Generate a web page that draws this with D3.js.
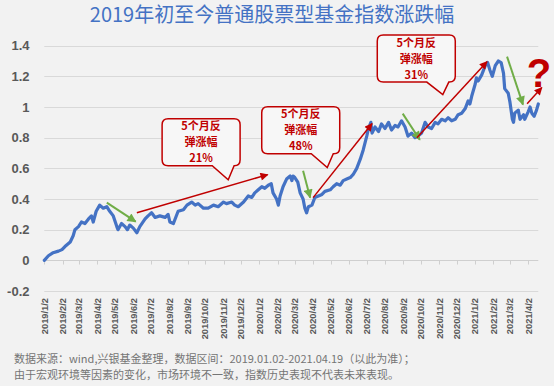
<!DOCTYPE html>
<html>
<head>
<meta charset="utf-8">
<script src="https://cdn.jsdelivr.net/npm/d3@7"></script>
<style>
  body { margin: 0; background: #f2f2f2; }
  svg { display: block; }
</style>
</head>
<body>
<script>
// index values (cumulative return since 2019-01-02)
const dates = [
  "2019-01-02","2019-01-09","2019-01-17","2019-01-26","2019-02-01","2019-02-06","2019-02-15","2019-02-20",
  "2019-02-23","2019-03-01","2019-03-06","2019-03-12","2019-03-18","2019-03-23","2019-03-26","2019-03-31",
  "2019-04-06","2019-04-12","2019-04-18","2019-04-23","2019-04-29","2019-05-05","2019-05-07","2019-05-13",
  "2019-05-19","2019-05-23","2019-05-27","2019-06-02","2019-06-08","2019-06-13","2019-06-22","2019-06-27",
  "2019-07-03","2019-07-09","2019-07-17","2019-07-26","2019-07-31","2019-08-03","2019-08-09","2019-08-17",
  "2019-08-26","2019-09-01","2019-09-09","2019-09-15","2019-09-20","2019-09-29","2019-10-07","2019-10-16",
  "2019-10-24","2019-11-02","2019-11-07","2019-11-16","2019-11-21","2019-11-27","2019-12-06","2019-12-14",
  "2019-12-20","2019-12-25","2019-12-31","2020-01-06","2020-01-11","2020-01-17","2020-01-22","2020-01-25",
  "2020-01-31","2020-02-03","2020-02-06","2020-02-11","2020-02-17","2020-02-23","2020-02-26","2020-02-28",
  "2020-03-02","2020-03-07","2020-03-11","2020-03-16","2020-03-19","2020-03-22","2020-03-25","2020-03-31",
  "2020-04-05","2020-04-11","2020-04-17","2020-04-22","2020-05-01","2020-05-06","2020-05-12","2020-05-18",
  "2020-05-23","2020-05-29","2020-06-04","2020-06-09","2020-06-15","2020-06-21","2020-06-26","2020-07-02",
  "2020-07-05","2020-07-09","2020-07-11","2020-07-16","2020-07-22","2020-07-27","2020-08-02","2020-08-08",
  "2020-08-13","2020-08-19","2020-08-24","2020-08-30","2020-09-05","2020-09-10","2020-09-16","2020-09-22",
  "2020-09-27","2020-10-03","2020-10-09","2020-10-14","2020-10-20","2020-10-26","2020-10-31","2020-11-06",
  "2020-11-12","2020-11-17","2020-11-23","2020-11-29","2020-12-04","2020-12-10","2020-12-16","2020-12-21",
  "2020-12-24","2020-12-27","2021-01-02","2021-01-04","2021-01-07","2021-01-13","2021-01-19","2021-01-23",
  "2021-01-27","2021-01-31","2021-02-05","2021-02-10","2021-02-15","2021-02-19","2021-02-21","2021-02-27",
  "2021-03-02","2021-03-06","2021-03-08","2021-03-10","2021-03-16","2021-03-19","2021-03-25","2021-03-27",
  "2021-04-02","2021-04-05","2021-04-08","2021-04-12","2021-04-16","2021-04-19"
]
const values = [
  0.00,0.03,0.05,0.06,0.07,0.09,0.12,0.16,
  0.20,0.22,0.25,0.24,0.27,0.29,0.25,0.32,
  0.36,0.34,0.35,0.32,0.29,0.22,0.20,0.24,
  0.22,0.20,0.23,0.21,0.18,0.22,0.27,0.29,
  0.31,0.28,0.29,0.28,0.30,0.25,0.24,0.32,
  0.33,0.36,0.38,0.36,0.37,0.34,0.34,0.36,
  0.35,0.38,0.37,0.38,0.36,0.35,0.38,0.42,
  0.41,0.44,0.46,0.48,0.47,0.49,0.50,0.44,
  0.40,0.36,0.42,0.48,0.53,0.55,0.52,0.55,
  0.54,0.51,0.44,0.40,0.34,0.31,0.35,0.36,
  0.41,0.42,0.43,0.45,0.46,0.48,0.50,0.49,
  0.52,0.53,0.54,0.56,0.60,0.66,0.72,0.81,
  0.86,0.90,0.83,0.87,0.84,0.89,0.86,0.90,
  0.85,0.88,0.87,0.91,0.87,0.81,0.83,0.80,
  0.81,0.83,0.90,0.87,0.86,0.90,0.89,0.92,
  0.91,0.93,0.91,0.92,0.95,0.96,0.99,1.04,
  1.02,1.07,1.15,1.19,1.17,1.21,1.27,1.29,
  1.24,1.20,1.27,1.30,1.29,1.22,1.12,1.09,
  1.03,0.92,0.90,0.96,0.98,0.92,0.95,0.92,
  0.97,1.00,0.96,0.94,0.98,1.02
]

const yTicks = [-0.2, 0, 0.2, 0.4, 0.6, 0.8, 1, 1.2, 1.4]

// annotations, [from date, from value, to date, to value]
const greenArrows = [
  ["2019-04-18", 0.376, "2019-06-06", 0.252],
  ["2020-03-16", 0.585, "2020-03-28", 0.409],
  ["2020-09-01", 0.957, "2020-09-30", 0.787],
  ["2021-02-25", 1.329, "2021-03-24", 1.016]
]
const redArrows = [
  ["2019-06-08", 0.311, "2020-01-16", 0.559],
  ["2020-04-02", 0.409, "2020-07-11", 0.892],
  ["2020-09-25", 0.800, "2021-01-22", 1.296],
  ["2021-03-31", 1.022, "2021-04-25", 1.127]
]
const callouts = [
  {date: "2019-09-25", value: 0.771, tipDate: "2019-11-10", tipValue: 0.526, lines: ["5个月反", "弹涨幅", "21%"]},
  {date: "2020-03-12", value: 0.849, tipDate: "2020-04-26", tipValue: 0.605, lines: ["5个月反", "弹涨幅", "48%"]},
  {date: "2020-09-24", value: 1.316, tipDate: "2020-11-08", tipValue: 1.081, lines: ["5个月反", "弹涨幅", "31%"]}
]

const title = "2019年初至今普通股票型基金指数涨跌幅"
const notes = [
  "数据来源：wind,兴银基金整理，数据区间：2019.01.02-2021.04.19（以此为准）；",
  "由于宏观环境等因素的变化，市场环境不一致，指数历史表现不代表未来表现。"
]

const width = 554
const height = 386
const parse = d3.timeParse("%Y-%m-%d")
const rows = dates.map((d, i) => ({date: parse(d), value: values[i]}))

const red = "#c00000"
const green = "#70ad47"
const blue = "#4472c4"
const grid = "#d9d9d9"
const cjk = "'Noto Sans CJK SC', 'Noto Sans', sans-serif"
const latin = "'Liberation Sans', Arial, sans-serif"

const svg = d3.select("body").append("svg")
  .attr("viewBox", `0 0 ${width} ${height}`)
  .attr("width", width)
  .attr("height", height)

svg.append("rect").attr("width", width).attr("height", height).attr("fill", "#f2f2f2")

const x = d3.scaleTime()
  .domain([parse("2019-01-02"), parse("2021-04-19")])
  .range([44.3, 538.3])

const y = d3.scaleLinear()
  .domain([-0.2, 1.4])
  .range([291, 45.7])

const defs = svg.append("defs")
function marker(id, color, len, w) {
  defs.append("marker")
    .attr("id", id)
    .attr("markerUnits", "userSpaceOnUse")
    .attr("viewBox", "0 0 10 10")
    .attr("refX", 9).attr("refY", 5)
    .attr("markerWidth", len).attr("markerHeight", w)
    .attr("orient", "auto")
    .append("path").attr("d", "M0,0 L10,5 L0,10 z").attr("fill", color)
}
marker("head-red", red, 10, 8)
marker("head-green", green, 10, 9)

// gridlines
svg.append("g")
  .selectAll("line")
  .data(yTicks.filter(t => t !== 0))
  .join("line")
    .attr("x1", x.range()[0]).attr("x2", x.range()[1])
    .attr("y1", d => Math.round(y(d)) + 0.5).attr("y2", d => Math.round(y(d)) + 0.5)
    .attr("stroke", grid)

// y labels
svg.append("g")
  .selectAll("text")
  .data(yTicks)
  .join("text")
    .attr("x", 29.5)
    .attr("y", d => y(d))
    .attr("dy", "0.36em")
    .attr("text-anchor", "end")
    .attr("font-family", latin)
    .attr("font-weight", "bold")
    .attr("font-size", 13)
    .attr("fill", "#595959")
    .text(d => d)

// x axis on the zero line, labels at the bottom
const months = d3.timeMonth.range(parse("2019-01-01"), parse("2021-04-02")).map(d => d3.timeDay.offset(d, 1))
const fmt = d3.timeFormat("%Y/%-m/%-d")
const y0 = Math.round(y(0)) + 0.5

const xAxis = svg.append("g")
xAxis.append("line")
  .attr("x1", x.range()[0]).attr("x2", x.range()[1])
  .attr("y1", y0).attr("y2", y0)
  .attr("stroke", "#cfcfcf")
xAxis.selectAll(".tick")
  .data(months)
  .join("line")
    .attr("x1", d => Math.round(x(d)) + 0.5).attr("x2", d => Math.round(x(d)) + 0.5)
    .attr("y1", y0).attr("y2", y0 + 4)
    .attr("stroke", "#cfcfcf")
xAxis.selectAll("text")
  .data(months)
  .join("text")
    .attr("transform", d => `translate(${x(d)},298) rotate(-90)`)
    .attr("dy", "0.35em")
    .attr("text-anchor", "end")
    .attr("font-family", latin)
    .attr("font-weight", "bold")
    .attr("font-size", 9.3)
    .attr("fill", "#595959")
    .text(fmt)

// index line
svg.append("path")
  .datum(rows)
  .attr("fill", "none")
  .attr("stroke", blue)
  .attr("stroke-width", 3.2)
  .attr("stroke-linejoin", "round")
  .attr("stroke-linecap", "round")
  .attr("d", d3.line().x(d => x(d.date)).y(d => y(d.value)))

// arrows
function arrows(data, color, id, sw) {
  svg.append("g")
    .selectAll("line")
    .data(data)
    .join("line")
      .attr("x1", d => x(parse(d[0]))).attr("y1", d => y(d[1]))
      .attr("x2", d => x(parse(d[2]))).attr("y2", d => y(d[3]))
      .attr("stroke", color)
      .attr("stroke-width", sw)
      .attr("marker-end", `url(#${id})`)
}
arrows(greenArrows, green, "head-green", 2)
arrows(redArrows, red, "head-red", 1.5)

// callouts
const boxW = 78, boxH = 47, r = 6, lineH = 16
function calloutPath(c) {
  const cx = x(parse(c.date)), cy = y(c.value)
  const tx = x(parse(c.tipDate)), ty = y(c.tipValue)
  const x0 = cx - boxW / 2, x1 = cx + boxW / 2, y0 = cy - boxH / 2, y1 = cy + boxH / 2
  const b0 = Math.max(x0 + r, tx - 16)
  const b1 = Math.min(x1 - r, tx + 6)
  return `M${x0 + r},${y0} H${x1 - r} Q${x1},${y0} ${x1},${y0 + r} V${y1 - r} Q${x1},${y1} ${x1 - r},${y1}
    H${b1} L${tx},${ty} L${b0},${y1} H${x0 + r} Q${x0},${y1} ${x0},${y1 - r} V${y0 + r} Q${x0},${y0} ${x0 + r},${y0} Z`
}
const cg = svg.append("g")
  .selectAll("g")
  .data(callouts)
  .join("g")
cg.append("path")
  .attr("d", calloutPath)
  .attr("fill", "#f7f7f7")
  .attr("stroke", red)
  .attr("stroke-width", 1.5)
// one text block per callout, lines as tspans
cg.append("text")
  .attr("text-anchor", "middle")
  .attr("font-family", cjk)
  .attr("font-weight", "bold")
  .attr("font-size", 11)
  .attr("fill", red)
  .selectAll("tspan")
  .data(c => c.lines.map((t, i) => ({t, i, c})))
  .join("tspan")
    .attr("x", d => x(parse(d.c.date)))
    .attr("y", d => y(d.c.value) + (d.i - 1) * lineH + 4)
    .text(d => d.t)

svg.append("text")
  .attr("x", 539).attr("y", 87)
  .attr("text-anchor", "middle")
  .attr("font-family", latin)
  .attr("font-weight", "bold")
  .attr("font-size", 40)
  .attr("fill", red)
  .text("?")

// title
svg.append("text")
  .attr("x", 272).attr("y", 21.5)
  .attr("text-anchor", "middle")
  .attr("font-family", cjk)
  .attr("font-size", 20)
  .attr("fill", blue)
  .text(title)

// footnote
svg.append("g")
  .selectAll("text")
  .data(notes)
  .join("text")
    .attr("x", 14)
    .attr("y", (d, i) => 363 + i * 16)
    .attr("font-family", cjk)
    .attr("font-size", 11)
    .attr("fill", "#757575")
    .text(d => d)
</script>
</body>
</html>
